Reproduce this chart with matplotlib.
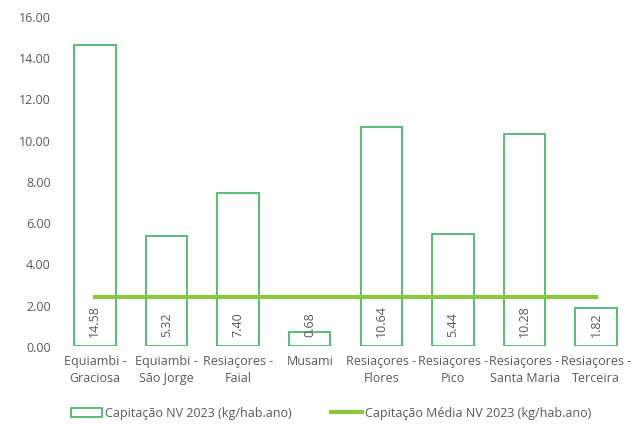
import numpy as np
import matplotlib
matplotlib.use("Agg")
import matplotlib.pyplot as plt
from matplotlib.lines import Line2D
from matplotlib.patches import Patch

plt.rcParams['font.family'] = ['Open Sans', 'DejaVu Sans']

categories = ["Equiambi -\nGraciosa", "Equiambi -\nSão Jorge", "Resiaçores -\nFaial", "Musami",
              "Resiaçores -\nFlores", "Resiaçores -\nPico", "Resiaçores -\nSanta Maria", "Resiaçores -\nTerceira"]
capitacao = [14.58, 5.32, 7.40, 0.68, 10.64, 5.44, 10.28, 1.82]
media = 2.40
yticks = [0, 2, 4, 6, 8, 10, 12, 14, 16]

bar_col = "#4cb86b"
line_col = "#8dc63f"
txt_col = "#595959"

fig = plt.figure(figsize=(6.32, 4.27), dpi=100)
ax = fig.add_axes([59/632, 80/427, 573/632, 330/427])

x = np.arange(len(categories))
ax.bar(x, capitacao, width=0.58, facecolor="white", edgecolor=bar_col, linewidth=1.3, zorder=2)
ax.plot(x, [media]*len(x), color=line_col, linewidth=3, zorder=3)

for xi, v in zip(x, capitacao):
    ax.annotate("{:.2f}".format(v), xy=(xi, 0), xytext=(0, 7), textcoords="offset points",
                rotation=90, ha="center", va="bottom", fontsize=9, color=txt_col, zorder=4)

ax.set_xlim(-0.5, len(categories) - 0.5)
ax.set_ylim(0, 16)
ax.set_yticks(yticks)
ax.set_yticklabels(["{:.2f}".format(t) for t in yticks], fontsize=9, color=txt_col)
ax.set_xticks(x)
ax.set_xticklabels(categories, fontsize=9, color=txt_col, linespacing=1.4)
ax.tick_params(length=0, pad=6)
for s in ax.spines.values():
    s.set_visible(False)

handles = [Patch(facecolor="white", edgecolor=bar_col, linewidth=1.3),
           Line2D([0], [0], color=line_col, linewidth=3)]
labels = ["Capitação NV 2023 (kg/hab.ano)", "Capitação Média NV 2023 (kg/hab.ano)"]
fig.legend(handles, labels, loc="center", bbox_to_anchor=(331/632, 1 - 414/427), ncol=2,
           frameon=False, fontsize=9, labelcolor=txt_col, handlelength=2.5, handletextpad=0.2,
           columnspacing=3.2)

fig.savefig("out.png", dpi=100)
